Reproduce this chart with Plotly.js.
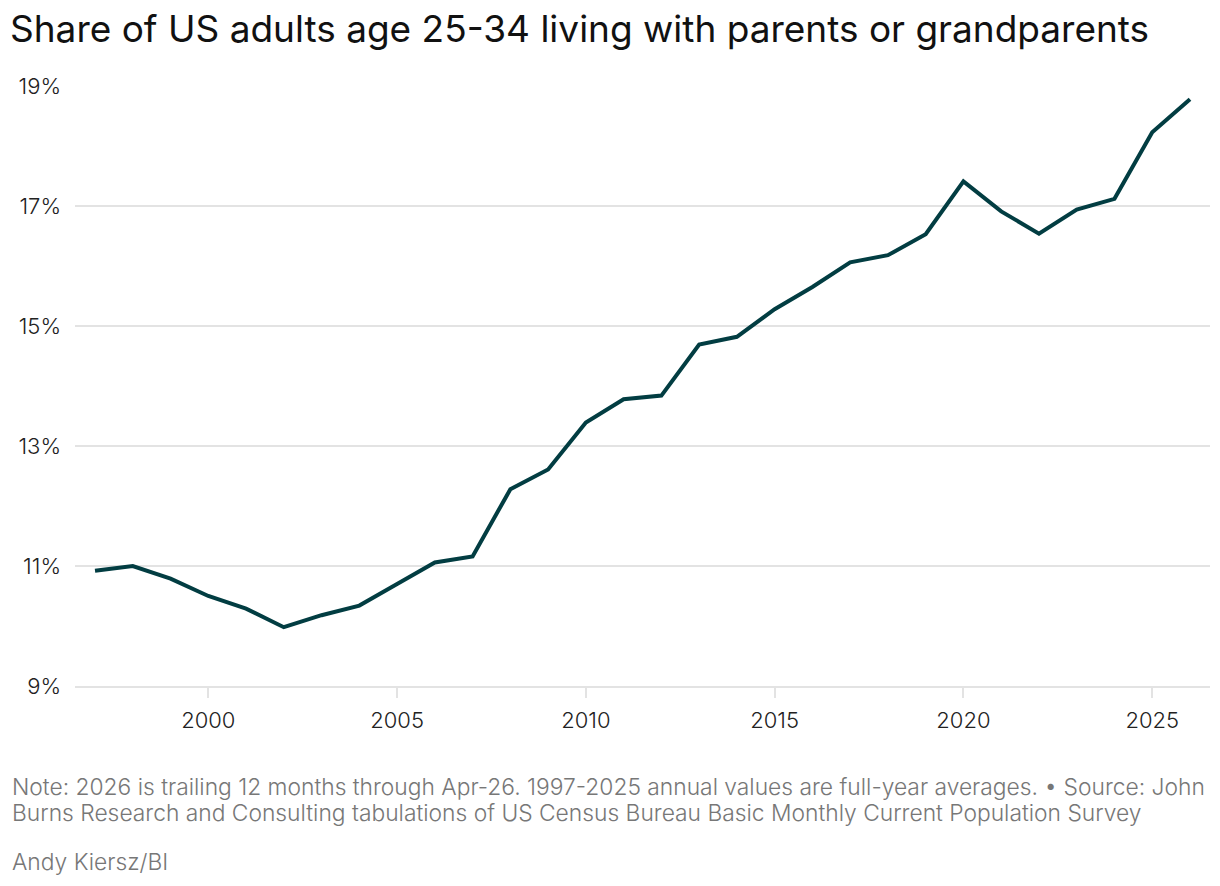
<!DOCTYPE html>
<html>
<head>
<meta charset="utf-8">
<script src="https://cdn.plot.ly/plotly-3.0.1.min.js"></script>
<style>
html,body{margin:0;padding:0;background:#fff;}
#chart{width:1220px;height:886px;}
</style>
</head>
<body>
<div id="chart"></div>
<script>
const years = [1997,1998,1999,2000,2001,2002,2003,2004,2005,2006,2007,2008,2009,2010,2011,2012,2013,2014,2015,2016,2017,2018,2019,2020,2021,2022,2023,2024,2025,2026];
const sharePct = [10.92,11.0,10.79,10.5,10.29,9.98,10.18,10.34,10.7,11.06,11.16,12.28,12.61,13.39,13.78,13.84,14.69,14.82,15.28,15.65,16.06,16.18,16.53,17.41,16.91,16.54,16.94,17.12,18.23,18.78];
const yTicks = [9,11,13,15,17,19];
const xTicks = [2000,2005,2010,2015,2020,2025];
const titleText = "Share of US adults age 25-34 living with parents or grandparents";
const noteLines = [
  "Note: 2026 is trailing 12 months through Apr-26. 1997-2025 annual values are full-year averages. \u2022 Source: John",
  "Burns Research and Consulting tabulations of US Census Bureau Basic Monthly Current Population Survey"
];
const creditText = "Andy Kiersz/BI";

const FONT = "Inter, 'Noto Sans', sans-serif";

const trace = {
  x: years, y: sharePct, type: 'scatter', mode: 'lines',
  line: {color: '#023d42', width: 4}, hoverinfo: 'x+y'
};

const W = 1220, H = 886, ml = 75, mr = 10, mt = 86, mb = 200;
const pw = W - ml - mr, ph = H - mt - mb;
const py = px => (mt + ph - px) / ph;
const noteFont = {family: FONT, size: 22.8, color: '#777', weight: 300};

const annotations = noteLines.map((t, i) => ({
  text: t, xref: 'paper', yref: 'paper', x: (10 - ml)/pw, y: py(786 + i*26),
  xanchor: 'left', yanchor: 'middle', align: 'left', showarrow: false, font: noteFont
}));
annotations.push({
  text: creditText, xref: 'paper', yref: 'paper', x: (10 - ml)/pw, y: py(861),
  xanchor: 'left', yanchor: 'middle', align: 'left', showarrow: false, font: noteFont
});

const layout = {
  width: W, height: H,
  margin: {l: ml, r: mr, t: mt, b: mb},
  paper_bgcolor: '#fff', plot_bgcolor: '#fff',
  showlegend: false,
  font: {family: FONT, color: '#222'},
  title: {text: titleText, x: 10/W, xanchor: 'left', xref: 'container',
          y: 1 - 29/H, yref: 'container', yanchor: 'middle',
          font: {family: FONT, size: 37, color: '#111', weight: 400}},
  xaxis: {range: [1996.47, 2026.53], tickvals: xTicks, ticktext: xTicks.map(String),
          ticks: 'outside', ticklen: 10, tickwidth: 2, tickcolor: '#e3e3e3',
          showgrid: false, zeroline: false, showline: true, linecolor: '#e3e3e3', linewidth: 2,
          ticklabelstandoff: 4,
          tickfont: {family: FONT, size: 22, color: '#222', weight: 300}, fixedrange: true},
  yaxis: {range: [9, 19], tickvals: yTicks, ticktext: yTicks.map(v => v + '%'),
          showgrid: true, gridcolor: '#e3e3e3', gridwidth: 2,
          zeroline: false, showline: false, ticks: '', ticklabelstandoff: 13,
          tickfont: {family: FONT, size: 22, color: '#222', weight: 300}, fixedrange: true},
  annotations: annotations
};

Plotly.newPlot('chart', [trace], layout, {displayModeBar: false, staticPlot: true});
</script>
</body>
</html>
